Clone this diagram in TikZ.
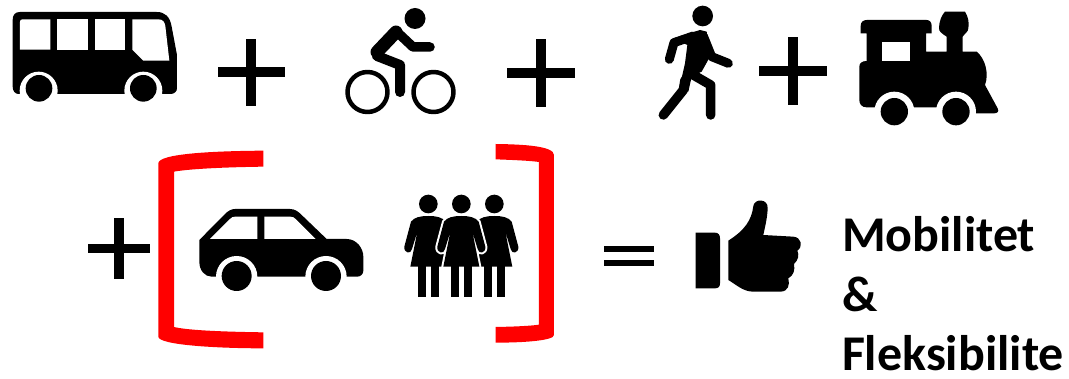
\documentclass[tikz,border=0pt]{standalone}
\usepackage{fontspec}
\setmainfont{Carlito}
\definecolor{brk}{RGB}{255,0,0}
\tikzset{
  zoomed/.style={x=0.33333pt,y=-0.33333pt},
  ink/.style={fill=black,draw=none},
  gap/.style={fill=white,draw=none},
  brace/.style={fill=brk,draw=none},
  halo/.style={fill=white,draw=white,line width=4pt,line join=round},
  limb/.style={draw=black,line cap=round,line join=round,fill=none},
  caption/.style={anchor=base west,inner sep=0pt,outer sep=0pt,font=\fontsize{50}{50}\selectfont\bfseries}
}
\newcommand{\plusmark}[4]{%
  \fill[black] (#1-#3,#2-#4) rectangle (#1+#3,#2+#4);
  \fill[black] (#1-#4,#2-#3) rectangle (#1+#4,#2+#3);}
\newcommand{\womanbody}[2]{%
  \path[#2] (#1,228) .. controls (#1+25,228) and (#1+42,232) .. (#1+52,245)
     -- (#1+72,320) .. controls (#1+74,340) and (#1+52,344) .. (#1+49,327)
     -- (#1+33,275) -- (#1+54,380) -- (#1-54,380) -- (#1-33,275)
     -- (#1-49,327) .. controls (#1-52,344) and (#1-74,340) .. (#1-72,320)
     -- (#1-52,245) .. controls (#1-42,232) and (#1-25,228) .. (#1,228) -- cycle;}
\newcommand{\womanfig}[1]{%
  \fill[black] (#1,192) circle (28);
  \fill[black] (#1-32,378) rectangle (#1-7,470);
  \fill[black] (#1+7,378) rectangle (#1+32,470);
  \womanbody{#1}{ink}}
\begin{document}
\begin{tikzpicture}[x=1pt,y=-1pt]
\useasboundingbox (0,0) rectangle (1069,379);
% bus
\begin{scope}[zoomed]
\fill[ink] (38,60) .. controls (38,45) and (45,36) .. (60,36) -- (470,36)
  .. controls (495,36) and (510,50) .. (515,80) -- (531,165) -- (531,265)
  .. controls (531,275) and (522,282) .. (512,282) -- (55,282)
  .. controls (45,282) and (38,272) .. (38,260) -- cycle;
\fill[gap] (60,66) .. controls (60,60) and (62,58) .. (68,58) -- (151,58) -- (151,149) -- (60,149) -- cycle;
\fill[gap] (172,58) rectangle (263,149);
\fill[gap] (285,58) rectangle (375,149);
\fill[gap] (397,58) -- (475,58) .. controls (488,58) and (494,65) .. (496,78) -- (508,182) -- (430,182) -- (397,149) -- cycle;
\fill[gap] (116,272) circle (57);
\fill[gap] (430,272) circle (57);
\fill[gap] (50,283) rectangle (500,320);
\fill[ink] (117,265) circle (40);
\fill[ink] (430,265) circle (40);
\end{scope}
\plusmark{251}{72.5}{33.5}{5}
% cyclist
\fill[black] (415,18.5) circle (10.5);
\draw[limb,line width=4.5pt] (367.5,92) circle (20);
\draw[limb,line width=4.5pt] (433.5,92) circle (20);
\draw[limb,line width=13pt] (377,52) -- (396,32);
\draw[limb,line width=9.5pt] (396,31) -- (413,47) -- (430,47);
\draw[limb,line width=10pt] (377,56) -- (400,65) -- (400,92);
\plusmark{541}{73}{34}{5.2}
% walker
\begin{scope}[shift={(650pt,0pt)},zoomed]
\fill[ink] (158,48) circle (31);
\fill[ink] (70,115) -- (150,90) -- (170,95) -- (180,170) -- (155,215) -- (125,230) -- (115,275) -- (88,265) -- (105,190) -- (112,135) -- cycle;
\draw[limb,line width=9pt] (130,108) -- (72,128) -- (58,178);
\draw[limb,line width=9pt] (160,108) -- (185,170) -- (235,190);
\draw[limb,line width=9.5pt] (105,240) -- (100,270) -- (40,345);
\draw[limb,line width=9.5pt] (130,225) -- (182,255) -- (182,345);
\end{scope}
\plusmark{793}{71}{34}{5}
% train
\begin{scope}[shift={(640pt,0pt)},zoomed]
\fill[ink] (662,78) .. controls (662,66) and (670,60) .. (680,60) -- (860,60) .. controls (870,60) and (875,68) .. (875,78) -- (875,100) -- (858,100) -- (858,155) -- (920,155) -- (920,110) .. controls (905,100) and (897,95) .. (897,85) .. controls (897,65) and (905,45) .. (915,35) -- (975,35) .. controls (985,50) and (988,70) .. (985,85) .. controls (985,95) and (975,100) .. (968,110) -- (968,155) -- (1010,155)
  .. controls (1035,175) and (1048,220) .. (1035,255) -- (1073,325) .. controls (1078,335) and (1072,340) .. (1062,340) -- (1005,340) -- (1005,322) -- (680,322) .. controls (665,322) and (658,312) .. (658,300) -- (658,200) .. controls (658,190) and (665,183) .. (680,183) -- (680,100) -- (662,100) -- cycle;
\fill[gap] (727,125) rectangle (810,182);
\fill[gap] (763,335) circle (60);
\fill[gap] (948,335) circle (60);
\fill[ink] (763,335) circle (41);
\fill[ink] (948,335) circle (41);
\end{scope}
\plusmark{119}{248.7}{30.7}{4.7}
% brackets
\begin{scope}[shift={(150pt,-140pt)},zoomed]
\fill[brace] (340,32) .. controls (200,33) and (25,40) .. (25,70) -- (25,590)
  .. controls (25,615) and (200,625) .. (340,625) -- (340,577)
  .. controls (200,575) and (110,570) .. (72,561) -- (72,95)
  .. controls (110,88) and (200,82) .. (340,80) -- cycle;
\fill[brace] (1037,12) .. controls (1120,13) and (1212,18) .. (1212,45) -- (1212,585)
  .. controls (1212,602) and (1120,608) .. (1037,608) -- (1037,561)
  .. controls (1090,560) and (1140,558) .. (1167,554) -- (1167,66)
  .. controls (1140,62) and (1090,60) .. (1037,58) -- cycle;
% car
\fill[ink] (148,300) -- (225,222) .. controls (235,212) and (245,207) .. (255,207) -- (420,207) .. controls (435,207) and (445,215) .. (455,225) -- (530,297) -- (590,297)
  .. controls (620,297) and (640,325) .. (640,350) -- (640,392) .. controls (640,402) and (632,410) .. (622,410) -- (185,410) .. controls (165,410) and (148,392) .. (148,365) -- cycle;
\fill[gap] (180,297) -- (240,237) .. controls (245,232) and (248,230) .. (255,230) -- (322,230) -- (322,297) -- cycle;
\fill[gap] (343,230) -- (420,230) .. controls (428,230) and (432,232) .. (437,237) -- (497,297) -- (343,297) -- cycle;
\fill[gap] (260,410) circle (62);
\fill[gap] (528,410) circle (62);
\fill[gap] (190,411) rectangle (600,470);
\fill[ink] (260,408) circle (45);
\fill[ink] (528,408) circle (45);
% women
\womanfig{835}
\womanfig{1033}
\womanbody{934}{halo}
\womanfig{934}
\end{scope}
% equals + thumb
\begin{scope}[shift={(590pt,-190pt)},zoomed]
\fill[ink] (42,168) rectangle (192,187);
\fill[ink] (42,210) rectangle (192,229);
\fill[ink] (317,128) -- (375,128) .. controls (385,128) and (390,135) .. (390,145) -- (390,280) .. controls (390,290) and (385,295) .. (375,295) -- (317,295) -- cycle;
\fill[ink] (415,152) .. controls (465,120) and (485,90) .. (490,48) .. controls (493,25) and (535,25) .. (533,55)
  .. controls (532,85) and (525,110) .. (520,135) -- (610,140) .. controls (635,142) and (640,170) .. (622,182)
  .. controls (628,195) and (625,210) .. (612,222) .. controls (615,240) and (612,255) .. (595,265)
  .. controls (600,285) and (595,305) .. (570,305) -- (490,305) .. controls (460,305) and (440,285) .. (415,270) -- cycle;
\end{scope}
\node[caption] (t1) at (842,251.7) {Mobilitet};
\node[caption] (t2) at (842,311.7) {\&};
\node[caption] (t3) at (842,371) {Fleksibilite};
\end{tikzpicture}
\end{document}
